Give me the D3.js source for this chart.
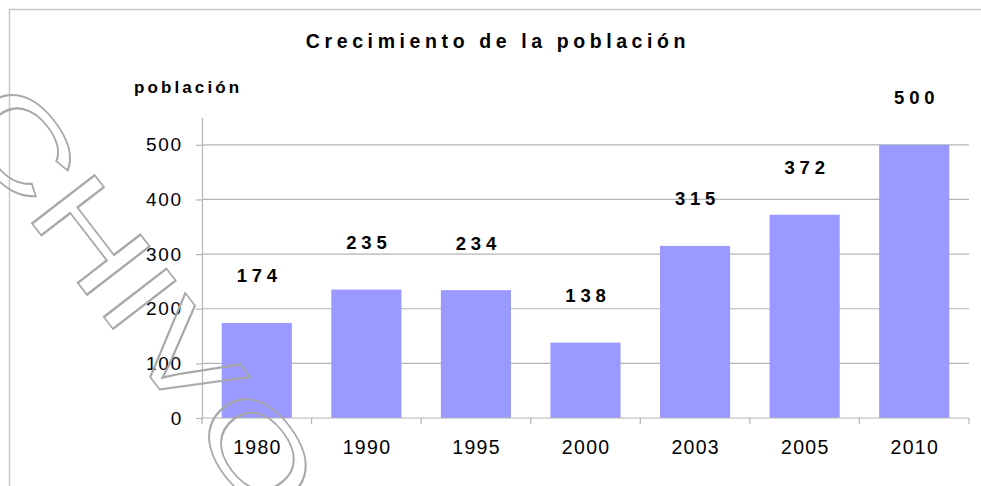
<!DOCTYPE html>
<html>
<head>
<meta charset="utf-8">
<script src="https://cdn.jsdelivr.net/npm/d3@7"></script>
<style>
  html, body { margin: 0; padding: 0; background: #fff; }
  svg { display: block; font-family: 'Liberation Sans', Arial, sans-serif; }
</style>
</head>
<body>
<script>
// chart data
const years = ['1980', '1990', '1995', '2000', '2003', '2005', '2010']
const population = [174, 235, 234, 138, 315, 372, 500]
const yTicks = [0, 100, 200, 300, 400, 500]
const title = 'Crecimiento de la población'
const yLabel = 'población'
const watermark = 'CHIVO'

const width = 981
const height = 486
const plot = { left: 202, right: 969, top: 117.5, bottom: 418 }
const grey = '#b4b4b4'

const svg = d3.select('body').append('svg')
  .attr('width', width)
  .attr('height', height)

// Outer frame (top and left edges only are visible)
svg.append('path')
  .attr('d', `M9.5,${height} V9.5 H${width}`)
  .attr('fill', 'none')
  .attr('stroke', '#c8c8c8')
  .attr('stroke-width', 1.5)

const x = d3.scaleBand()
  .domain(years)
  .range([plot.left, plot.right])
  .paddingInner(0.36)
  .paddingOuter(0.18)

const y = d3.scaleLinear()
  .domain([0, 550])
  .range([plot.bottom, plot.top])

// Gridlines
svg.append('g')
  .attr('class', 'grid')
  .selectAll('line')
  .data(yTicks.filter(d => d > 0))
  .enter()
  .append('line')
  .attr('x1', plot.left)
  .attr('x2', plot.right)
  .attr('y1', d => y(d))
  .attr('y2', d => y(d))
  .attr('stroke', grey)
  .attr('stroke-width', 1.2)

// Bars
const data = years.map((year, i) => ({ year, value: population[i] }))
svg.append('g')
  .attr('class', 'bars')
  .selectAll('rect')
  .data(data)
  .enter()
  .append('rect')
  .attr('x', d => x(d.year))
  .attr('width', x.bandwidth())
  .attr('y', d => y(d.value))
  .attr('height', d => y(0) - y(d.value))
  .attr('fill', '#9999ff')

// Y axis
const yAxis = svg.append('g')
  .attr('transform', `translate(${plot.left},0)`)
  .call(d3.axisLeft(y).tickValues(yTicks).tickSize(6).tickSizeOuter(0).tickPadding(13))
yAxis.select('.domain').attr('stroke', grey).attr('stroke-width', 1.2)
yAxis.selectAll('.tick line').attr('stroke', grey).attr('stroke-width', 1.2)
yAxis.selectAll('.tick text')
  .attr('font-size', 19)
  .attr('letter-spacing', 1.8)
  .attr('fill', '#000')
  .attr('font-family', "'Liberation Sans', Arial, sans-serif")

// X axis baseline and category boundary ticks
const gap = x.step() - x.bandwidth()
const bounds = years.map(d => x(d) - gap / 2).concat([plot.right])
svg.append('line')
  .attr('x1', plot.left)
  .attr('x2', plot.right)
  .attr('y1', y(0))
  .attr('y2', y(0))
  .attr('stroke', grey)
  .attr('stroke-width', 1.2)
svg.append('g')
  .selectAll('line')
  .data(bounds)
  .enter()
  .append('line')
  .attr('x1', d => d)
  .attr('x2', d => d)
  .attr('y1', y(0))
  .attr('y2', y(0) + 6)
  .attr('stroke', grey)
  .attr('stroke-width', 1.2)

// X labels
const xAxis = svg.append('g')
  .attr('transform', `translate(0,${y(0)})`)
  .call(d3.axisBottom(x).tickSize(0).tickPadding(22))
xAxis.select('.domain').remove()
xAxis.selectAll('.tick text')
  .attr('font-size', 19.5)
  .attr('letter-spacing', 1.3)
  .attr('dx', 0.65)
  .attr('fill', '#000')
  .attr('font-family', "'Liberation Sans', Arial, sans-serif")

// Value labels above bars
svg.append('g')
  .selectAll('text')
  .data(data)
  .enter()
  .append('text')
  .attr('x', d => x(d.year) + x.bandwidth() / 2 + 2.5)
  .attr('y', d => y(d.value) - 47)
  .attr('dy', '0.35em')
  .attr('text-anchor', 'middle')
  .attr('font-size', 18.5)
  .attr('font-weight', 'bold')
  .attr('letter-spacing', 4.8)
  .text(d => d.value)

// Title and axis label
svg.append('text')
  .attr('x', 498)
  .attr('y', 48)
  .attr('text-anchor', 'middle')
  .attr('font-size', 19.5)
  .attr('font-weight', 'bold')
  .attr('letter-spacing', 4.6)
  .text(title)

svg.append('text')
  .attr('x', 134)
  .attr('y', 93)
  .attr('font-size', 17)
  .attr('font-weight', 'bold')
  .attr('letter-spacing', 3.1)
  .text(yLabel)

// Outlined watermark on top
svg.append('text')
  .attr('transform', 'translate(-47,121) rotate(52.4) scale(1.4,1)')
  .attr('font-size', 115)
  .attr('fill', 'none')
  .attr('stroke', '#a8a8a8')
  .attr('stroke-width', 2)
  .attr('vector-effect', 'non-scaling-stroke')
  .text(watermark)
</script>
</body>
</html>
